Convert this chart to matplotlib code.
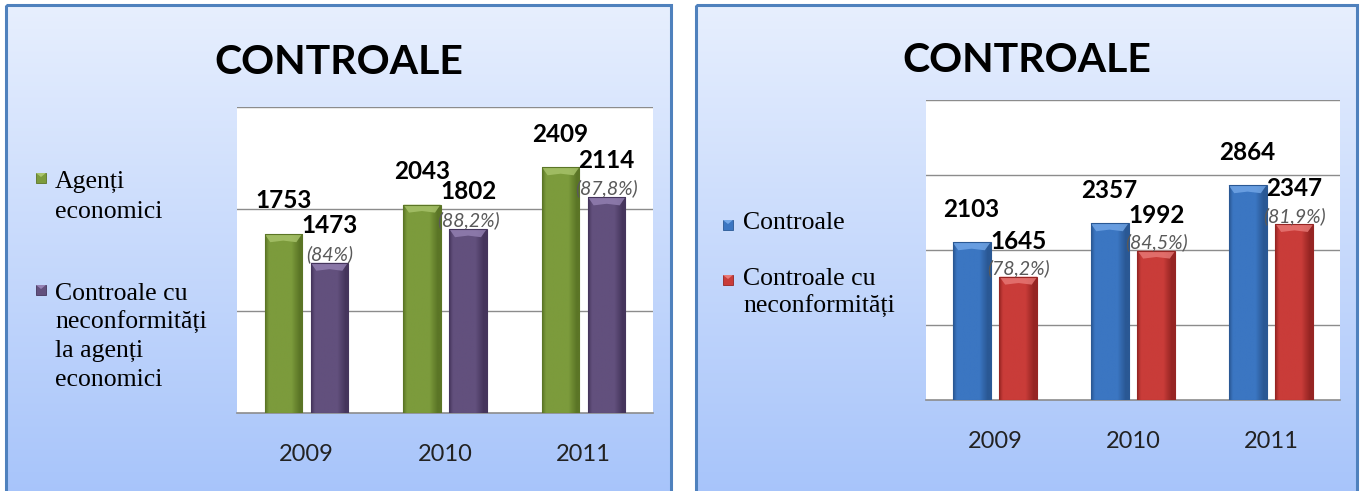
import numpy as np
import matplotlib
matplotlib.use("Agg")
import matplotlib.pyplot as plt
from matplotlib.patches import Rectangle, Polygon
from matplotlib.colors import LinearSegmentedColormap

# ---------------- data ----------------
years = ["2009", "2010", "2011"]
title_text = "CONTROALE"

left_names = ["Agenți\neconomici", "Controale cu\nneconformități\nla agenți\neconomici"]
left_total = [1753, 2043, 2409]
left_noncompliant = [1473, 1802, 2114]
left_pct = ["(84%)", "(88,2%)", "(87,8%)"]

right_names = ["Controale", "Controale cu\nneconformități"]
right_total = [2103, 2357, 2864]
right_noncompliant = [1645, 1992, 2347]
right_pct = ["(78,2%)", "(84,5%)", "(81,9%)"]

# ---------------- style ----------------
W, H = 1362, 491
GREEN = dict(main="#7c9b3c", dark="#5b7526", light="#a9c46c")
PURPLE = dict(main="#62507d", dark="#45355c", light="#9582b4")
BLUE = dict(main="#3b76c2", dark="#2a5894", light="#74a8e8")
RED = dict(main="#c93c39", dark="#962523", light="#e87a77")
SANS = ["Lato", "DejaVu Sans"]
SERIF = ["Liberation Serif", "DejaVu Serif"]

fig = plt.figure(figsize=(W / 100, H / 100), dpi=100)
fig.patch.set_facecolor("white")
bg = fig.add_axes([0, 0, 1, 1])
bg.set_xlim(0, W)
bg.set_ylim(H, 0)
bg.axis("off")

top_c = np.array([0xe7, 0xef, 0xfe]) / 255
bot_c = np.array([0xa7, 0xc4, 0xfa]) / 255
grad = np.linspace(0, 1, 256)[:, None, None]
grad_img = top_c * (1 - grad) + bot_c * grad


def panel(x0, x1):
    bg.imshow(grad_img, extent=(x0, x1, H + 5, 5), aspect="auto", zorder=0,
              interpolation="bilinear")
    bg.add_patch(Rectangle((x0, 5), x1 - x0, H + 10, fill=False,
                           edgecolor="#4f81bd", lw=2.2, zorder=1))


panel(6, 671)
panel(696, 1357)


def px_axes(l, r, t, b):
    return fig.add_axes([l / W, 1 - b / H, (r - l) / W, (b - t) / H])


def shade_bar(ax, bar, pal, px_per_unit):
    x0 = bar.get_x()
    w = bar.get_width()
    h = bar.get_height()
    cmap = LinearSegmentedColormap.from_list(
        "s", [(0, pal["dark"]), (0.1, pal["main"]), (0.7, pal["main"]),
              (0.92, pal["dark"]), (1, pal["dark"])])
    img = np.linspace(0, 1, 64)[None, :]
    im = ax.imshow(img, cmap=cmap, extent=(x0, x0 + w, 0, h), aspect="auto",
                   zorder=3.5, interpolation="bilinear")
    im.set_clip_path(bar)
    dy = 8 / px_per_unit
    ax.add_patch(Polygon([(x0, h), (x0 + w, h), (x0 + w * 0.85, h - dy),
                          (x0 + w * 0.5, h - dy * 0.8), (x0 + w * 0.15, h - dy)],
                         closed=True, facecolor=pal["light"], edgecolor="none",
                         alpha=0.8, zorder=3.6))
    ax.add_patch(Rectangle((x0, 0), w, h, fill=False, edgecolor=pal["dark"],
                           lw=0.8, zorder=3.7))


def draw_chart(ax, v1, v2, pcts, pal1, pal2, ymax, off, width, ax_h_px,
               off1_pt, off2_pt, offp_pt):
    x = np.arange(len(years))
    ax.set_xlim(-0.5, len(years) - 0.5)
    ax.set_ylim(0, ymax)
    ppu = ax_h_px / ymax
    b1 = ax.bar(x - off, v1, width, color=pal1["main"], zorder=3)
    b2 = ax.bar(x + off, v2, width, color=pal2["main"], zorder=3)
    for b in b1:
        shade_bar(ax, b, pal1, ppu)
    for b in b2:
        shade_bar(ax, b, pal2, ppu)
    for b, v in zip(b1, v1):
        ax.annotate(str(v), (b.get_x() + b.get_width() / 2, b.get_height()),
                    xytext=(0, off1_pt), textcoords="offset points",
                    ha="center", va="baseline", fontsize=17.5,
                    fontweight="bold", family=SANS, color="black", zorder=5,
                    annotation_clip=False)
    for b, v, p in zip(b2, v2, pcts):
        cx = b.get_x() + b.get_width() / 2
        ax.annotate(str(v), (cx, b.get_height()), xytext=(0, off2_pt),
                    textcoords="offset points", ha="center", va="baseline",
                    fontsize=17.5, fontweight="bold", family=SANS,
                    color="black", zorder=5, annotation_clip=False)
        ax.annotate(p, (cx, b.get_height()), xytext=(0, offp_pt),
                    textcoords="offset points", ha="center", va="baseline",
                    fontsize=14, style="italic", family=SANS,
                    color="#595959", zorder=5, annotation_clip=False)
    ax.set_facecolor("white")
    ax.set_yticks(np.arange(1000, ymax + 1, 1000))
    ax.set_yticklabels([])
    ax.yaxis.grid(True, color="#8c8c8c", lw=1)
    ax.set_axisbelow(True)
    ax.tick_params(axis="y", length=0)
    ax.set_xticks(x)
    ax.set_xticklabels(years, fontsize=17, family=SANS, color="#222222")
    ax.tick_params(axis="x", length=0, pad=22)
    for s in ["left", "right", "top"]:
        ax.spines[s].set_visible(False)
    ax.spines["bottom"].set_color("#8c8c8c")
    ax.spines["bottom"].set_linewidth(1.2)


axL = px_axes(237, 653, 107, 413)
draw_chart(axL, left_total, left_noncompliant, left_pct, GREEN, PURPLE,
           3000, 0.166, 0.268, 306, 18.5, 21.5, 2.2)

axR = px_axes(926, 1340, 100, 400)
draw_chart(axR, right_total, right_noncompliant, right_pct, BLUE, RED,
           4000, 0.17, 0.275, 300, 18.0, 20.0, 1.5)

# titles
fig.text(339 / W, 1 - 74 / H, title_text, ha="center", va="baseline",
         fontsize=29.5, fontweight="bold", family=SANS, color="black")
fig.text(1027 / W, 1 - 72 / H, title_text, ha="center", va="baseline",
         fontsize=29.5, fontweight="bold", family=SANS, color="black")


def legend_entry(mx, my, pal, name, tx, ty, step):
    bg.add_patch(Rectangle((mx, my), 10, 10, facecolor=pal["main"],
                           edgecolor=pal["dark"], lw=0.6, zorder=3))
    bg.add_patch(Polygon([(mx, my), (mx + 10, my), (mx + 5, my + 4)],
                         closed=True, facecolor=pal["light"], edgecolor="none",
                         zorder=4))
    for i, line in enumerate(name.split("\n")):
        bg.text(tx, ty + i * step, line, ha="left", va="baseline",
                fontsize=18.5, family=SERIF, color="black", zorder=5)


legend_entry(36, 173, GREEN, left_names[0], 55, 188, 29.5)
legend_entry(36, 285, PURPLE, left_names[1], 55, 300, 28.5)
legend_entry(723, 220, BLUE, right_names[0], 743, 229, 28)
legend_entry(723, 275, RED, right_names[1], 743, 285, 28)

fig.savefig("out.png", dpi=100)
